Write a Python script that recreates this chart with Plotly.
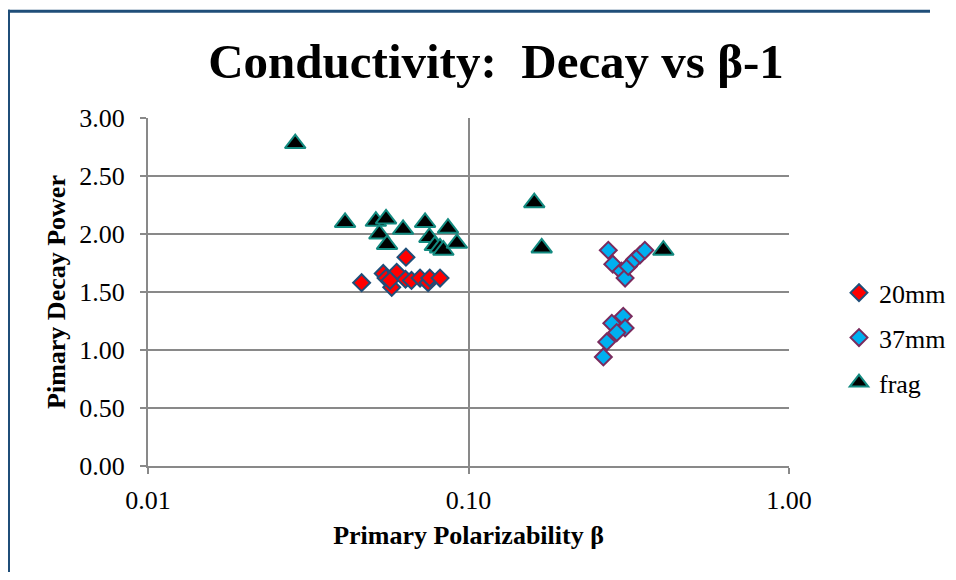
import plotly.graph_objects as go

# ---- data ----
mm20_x = [0.0464, 0.0542, 0.0553, 0.0576, 0.0597, 0.0569, 0.0636, 0.0638, 0.0664, 0.0706, 0.0748, 0.0757, 0.0815]
mm20_y = [1.58, 1.66, 1.62, 1.54, 1.67, 1.60, 1.61, 1.80, 1.60, 1.62, 1.58, 1.62, 1.62]

mm37_x = [0.273, 0.282, 0.300, 0.308, 0.315, 0.330, 0.343, 0.355,
          0.304, 0.280, 0.308, 0.290, 0.270, 0.2635]
mm37_y = [1.86, 1.74, 1.68, 1.62, 1.72, 1.78, 1.82, 1.86,
          1.29, 1.23, 1.19, 1.15, 1.07, 0.94]

frag_x = [0.0288, 0.0412, 0.0514, 0.0553, 0.0527, 0.0557, 0.0625, 0.0732, 0.0755,
          0.0785, 0.0815, 0.0863, 0.0835, 0.0920, 0.1604, 0.1692, 0.4055]
frag_y = [2.78, 2.10, 2.11, 2.13, 2.00, 1.91, 2.04, 2.10, 1.97,
          1.90, 1.88, 2.05, 1.86, 1.92, 2.27, 1.88, 1.86]

x_ticks = [0.01, 0.1, 1.0]
x_ticktext = ["0.01", "0.10", "1.00"]
y_ticks = [0.0, 0.5, 1.0, 1.5, 2.0, 2.5, 3.0]

FONT = "Times New Roman, Liberation Serif, serif"
OFF = 8  # page body margin
W, H = 956 - OFF, 580 - 2 * OFF
L = 148 - OFF
T = 118 - OFF
PR = 789 - OFF          # plot right
PB = 466.5 - OFF        # plot bottom
R = W - PR
B = H - PB
pw, ph = PR - L, PB - T


def px2paper_x(px):
    return (px - OFF - L) / pw


def py2paper_y(py):
    return (PB - (py - OFF)) / ph


fig = go.Figure()
fig.add_trace(go.Scatter(x=mm20_x, y=mm20_y, mode="markers", name="20mm", legend="legend",
                         marker=dict(symbol="diamond", size=13, color="#FF0000",
                                     line=dict(color="#1F4E79", width=2))))
fig.add_trace(go.Scatter(x=mm37_x, y=mm37_y, mode="markers", name="37mm", legend="legend2",
                         marker=dict(symbol="diamond", size=13, color="#00B0F0",
                                     line=dict(color="#7A2B5E", width=2))))
fig.add_trace(go.Scatter(x=frag_x, y=frag_y, mode="markers", name="frag", legend="legend3",
                         marker=dict(symbol="triangle-up", size=18, color="#000000",
                                     line=dict(color="#138A80", width=2))))

leg_common = dict(xanchor="left", yanchor="middle", bgcolor="rgba(0,0,0,0)",
                  font=dict(family=FONT, size=26, color="#000000"), itemwidth=30)
LEGX = px2paper_x(839)
fig.update_layout(
    legend=dict(x=LEGX, y=py2paper_y(293), **leg_common),
    legend2=dict(x=LEGX, y=py2paper_y(338), **leg_common),
    legend3=dict(x=LEGX, y=py2paper_y(383), **leg_common),
)

fig.update_layout(
    width=W, height=H,
    margin=dict(l=L, r=R, t=T, b=B, pad=0, autoexpand=False),
    paper_bgcolor="white", plot_bgcolor="white",
    font=dict(family=FONT, size=26, color="#000000"),
    showlegend=True,
    xaxis=dict(type="log", range=[-2, 0], tickvals=x_ticks, ticktext=x_ticktext,
               showgrid=True, gridcolor="#898989", gridwidth=2,
               showline=True, linecolor="#898989", linewidth=2,
               ticks="outside", ticklen=6, tickwidth=2, tickcolor="#898989",
               ticklabelstandoff=4, zeroline=False,
               tickfont=dict(family=FONT, size=26, color="#000000"),
               title=dict(text="<b>Primary Polarizability β</b>", standoff=12,
                          font=dict(family=FONT, size=26, color="#000000"))),
    yaxis=dict(range=[0, 3], tickvals=y_ticks, tickformat=".2f",
               showgrid=True, gridcolor="#898989", gridwidth=2,
               showline=True, linecolor="#898989", linewidth=2,
               ticks="outside", ticklen=6, tickwidth=2, tickcolor="#898989",
               ticklabelstandoff=10, zeroline=False,
               tickfont=dict(family=FONT, size=26, color="#000000"),
               title=dict(text="<b>Pimary Decay Power</b>", standoff=6,
                          font=dict(family=FONT, size=26, color="#000000"))),
    title=dict(text="<b>Conductivity:  Decay vs β-1</b>", x=(496 - OFF) / W, xanchor="center",
               y=1 - (61 - OFF) / H, yanchor="middle",
               font=dict(family=FONT, size=49, color="#000000")),
)

# outer frame: only the left and top edges are visible in the reference
FRAME = "#1F4E79"
fig.add_shape(type="line", xref="paper", yref="paper",
              x0=px2paper_x(8.5), x1=px2paper_x(8.5),
              y0=py2paper_y(580), y1=py2paper_y(9.5),
              line=dict(color=FRAME, width=3), layer="below")
fig.add_shape(type="line", xref="paper", yref="paper",
              x0=px2paper_x(7), x1=px2paper_x(930),
              y0=py2paper_y(11), y1=py2paper_y(11),
              line=dict(color=FRAME, width=3), layer="below")

fig.write_html("out.html")
